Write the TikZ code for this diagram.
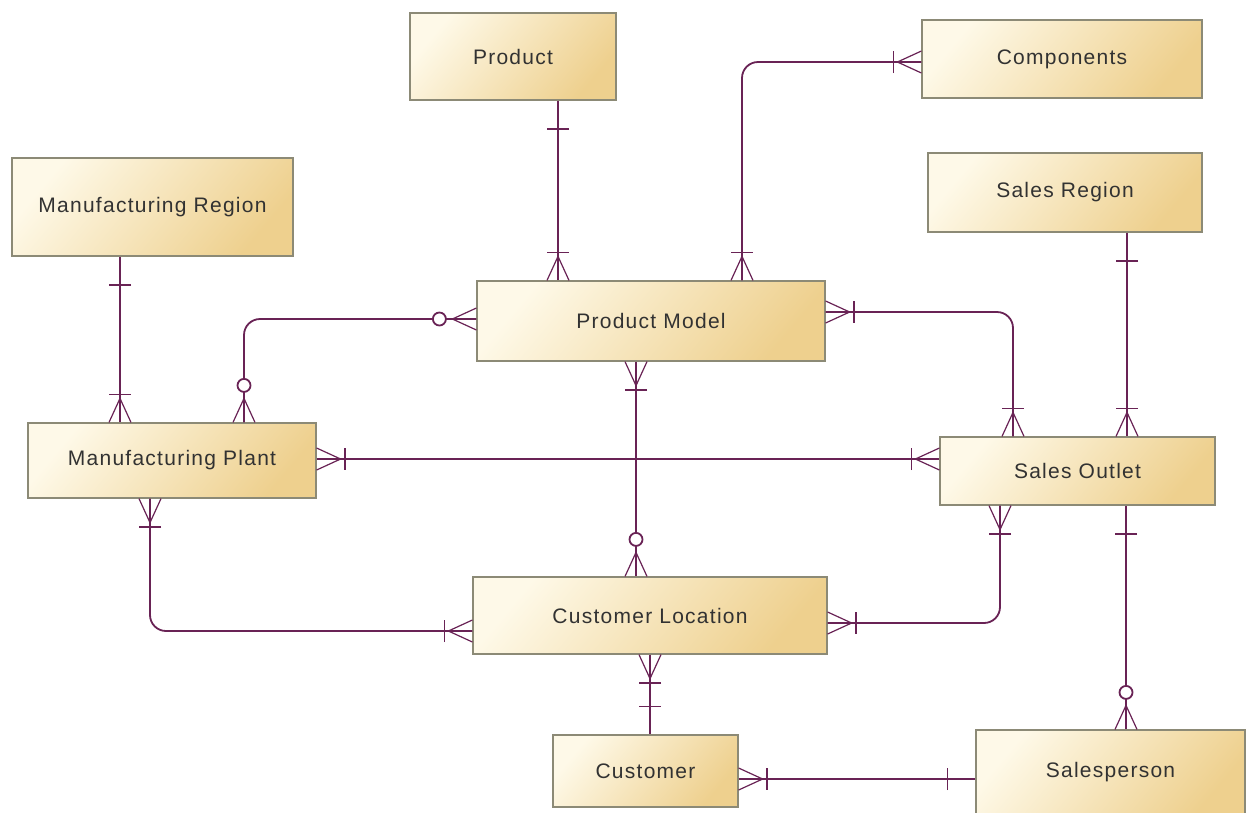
\documentclass[tikz,border=0pt]{standalone}
\usepackage{fontspec}
\newfontfamily\entfont{Liberation Sans}[LetterSpace=6]
\definecolor{boxlight}{RGB}{254,249,232}
\definecolor{boxdark}{RGB}{238,208,142}
\definecolor{boxline}{RGB}{140,138,118}
\definecolor{relc}{RGB}{105,35,85}
\definecolor{txt}{RGB}{50,50,50}
\tikzset{
  entity/.style={draw=boxline, line width=1.2pt, top color=boxlight, bottom color=boxdark,
    shading angle=50, font=\entfont\fontsize{21}{25}\selectfont, text=txt, inner sep=0pt},
  rel/.style={draw=relc, line width=1.8pt, rounded corners=16pt},
  foot/.style={draw=relc, line width=1.2pt},
  bar/.style={draw=relc, line width=1.8pt},
  % ends of a relationship, local x axis pointing away from the entity
  manybar/.pic={\draw[foot] (0,-11) -- (24,0) -- (0,11); \draw[bar] (28,-11) -- (28,11);},
  manycirc/.pic={\draw[foot] (0,-11) -- (24,0) -- (0,11); \draw[bar,fill=white] (37,0) circle (6.5pt);},
  onebar/.pic={\draw[bar] (28,-11) -- (28,11);}
}
\begin{document}
\begin{tikzpicture}[x=1pt,y=-1pt]
\fill[white] (0,0) rectangle (1246,812);
\useasboundingbox (0,0) rectangle (1246,812);

% entities
\node[entity, minimum width=206pt, minimum height=87pt] (prod)   at (513,56.5)   {Product};
\node[entity, minimum width=280pt, minimum height=78pt] (comp)   at (1062,59)    {Components};
\node[entity, minimum width=281pt, minimum height=98pt] (mreg)   at (152.5,207)  {Manufacturing Region};
\node[entity, minimum width=274pt, minimum height=79pt] (sreg)   at (1065,192.5) {Sales Region};
\node[entity, minimum width=348pt, minimum height=80pt] (pm)     at (651,321)    {Product Model};
\node[entity, minimum width=288pt, minimum height=75pt] (mplant) at (172,460.5)  {Manufacturing Plant};
\node[entity, minimum width=275pt, minimum height=68pt] (so)     at (1077.5,471) {Sales Outlet};
\node[entity, minimum width=354pt, minimum height=77pt] (cl)     at (650,615.5)  {Customer Location};
\node[entity, minimum width=185pt, minimum height=72pt] (cust)   at (645.5,771)  {Customer};
\node[entity, minimum width=269pt, minimum height=84pt] (sp)     at (1110.5,772) {Salesperson};

% Product -- Product Model
\draw[rel] (prod.south -| 558,0) -- (pm.north -| 558,0);
\pic[rotate=-90] at (prod.south -| 558,0) {onebar};
\pic[rotate=90] at (pm.north -| 558,0) {manybar};

% Components -- Product Model
\draw[rel] (comp.west |- 0,62) -| (pm.north -| 742,0);
\pic[rotate=180] at (comp.west |- 0,62) {manybar};
\pic[rotate=90] at (pm.north -| 742,0) {manybar};

% Manufacturing Region -- Manufacturing Plant
\draw[rel] (mreg.south -| 120,0) -- (mplant.north -| 120,0);
\pic[rotate=-90] at (mreg.south -| 120,0) {onebar};
\pic[rotate=90] at (mplant.north -| 120,0) {manybar};

% Product Model -- Manufacturing Plant
\draw[rel] (pm.west |- 0,319) -| (mplant.north -| 244,0);
\pic[rotate=180] at (pm.west |- 0,319) {manycirc};
\pic[rotate=90] at (mplant.north -| 244,0) {manycirc};

% Product Model -- Sales Outlet
\draw[rel] (pm.east |- 0,312) -| (so.north -| 1013,0);
\pic at (pm.east |- 0,312) {manybar};
\pic[rotate=90] at (so.north -| 1013,0) {manybar};

% Sales Region -- Sales Outlet
\draw[rel] (sreg.south -| 1127,0) -- (so.north -| 1127,0);
\pic[rotate=-90] at (sreg.south -| 1127,0) {onebar};
\pic[rotate=90] at (so.north -| 1127,0) {manybar};

% Manufacturing Plant -- Sales Outlet
\draw[rel] (mplant.east |- 0,459) -- (so.west |- 0,459);
\pic at (mplant.east |- 0,459) {manybar};
\pic[rotate=180] at (so.west |- 0,459) {manybar};

% Product Model -- Customer Location
\draw[rel] (pm.south -| 636,0) -- (cl.north -| 636,0);
\pic[rotate=-90] at (pm.south -| 636,0) {manybar};
\pic[rotate=90] at (cl.north -| 636,0) {manycirc};

% Manufacturing Plant -- Customer Location
\draw[rel] (mplant.south -| 150,0) |- (cl.west |- 0,631);
\pic[rotate=-90] at (mplant.south -| 150,0) {manybar};
\pic[rotate=180] at (cl.west |- 0,631) {manybar};

% Sales Outlet -- Customer Location
\draw[rel] (so.south -| 1000,0) |- (cl.east |- 0,623);
\pic[rotate=-90] at (so.south -| 1000,0) {manybar};
\pic at (cl.east |- 0,623) {manybar};

% Sales Outlet -- Salesperson
\draw[rel] (so.south -| 1126,0) -- (sp.north -| 1126,0);
\pic[rotate=-90] at (so.south -| 1126,0) {onebar};
\pic[rotate=90] at (sp.north -| 1126,0) {manycirc};

% Customer Location -- Customer
\draw[rel] (cl.south -| 650,0) -- (cust.north -| 650,0);
\pic[rotate=-90] at (cl.south -| 650,0) {manybar};
\pic[rotate=90] at (cust.north -| 650,0) {onebar};

% Customer -- Salesperson
\draw[rel] (cust.east |- 0,779) -- (sp.west |- 0,779);
\pic at (cust.east |- 0,779) {manybar};
\pic[rotate=180] at (sp.west |- 0,779) {onebar};
\end{tikzpicture}
\end{document}
